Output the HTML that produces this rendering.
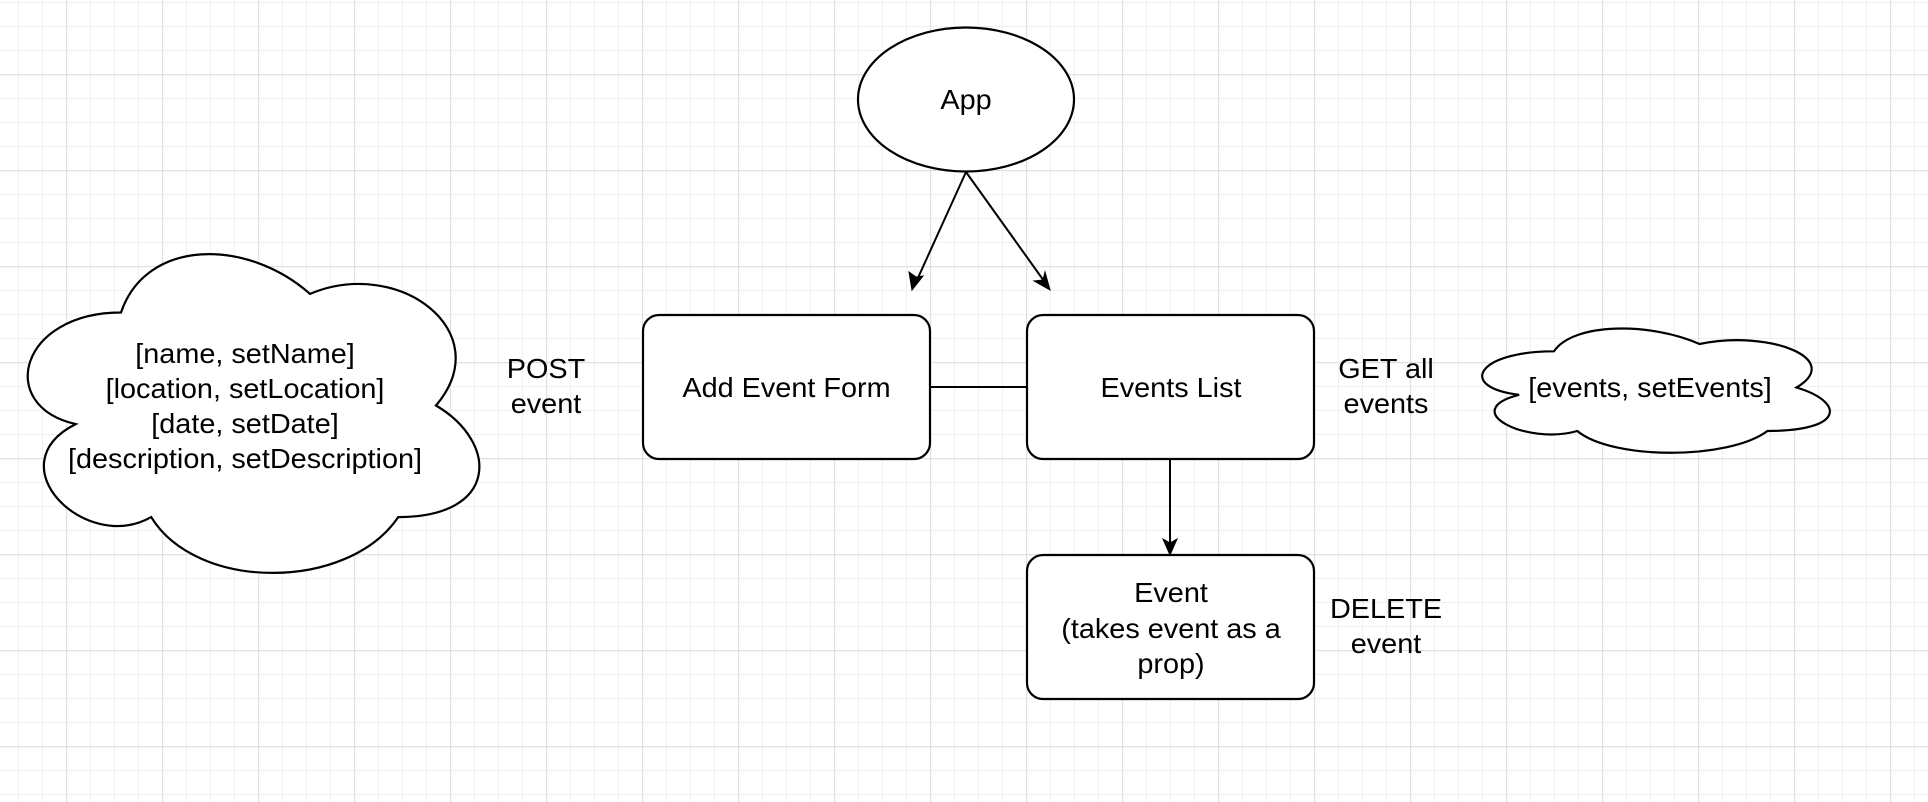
<!DOCTYPE html>
<html><head><meta charset="utf-8"><style>
html,body{margin:0;padding:0;background:#fff;}
svg{display:block;}
text{font-family:"Liberation Sans",Arial,sans-serif;font-size:28px;fill:#000;text-anchor:middle;}
</style></head><body>
<svg width="1928" height="802" viewBox="0 0 1928 802" xmlns="http://www.w3.org/2000/svg">
<defs>
<pattern id="minor" x="18" y="2" width="24" height="24" patternUnits="userSpaceOnUse">
<path d="M0 0V24M0 0H24" stroke="#f0f0f0" stroke-width="2" fill="none"/>
</pattern>
<pattern id="major" x="66.5" y="74.5" width="96" height="96" patternUnits="userSpaceOnUse">
<path d="M0 0V96M0 0H96" stroke="#d0d0d0" stroke-width="1.2" fill="none"/>
</pattern>
</defs>
<rect width="1928" height="802" fill="#fff"/>
<rect width="1928" height="802" fill="url(#minor)"/>
<rect width="1928" height="802" fill="url(#major)"/>

<g stroke="#000" stroke-width="2.2" fill="#fff">
<path d="M121 312.5 C20.2 312.5 -5 405.5 75.6 424.1 C-5 465 85.7 554.3 151.2 517.1 C196.6 591.5 347.8 591.5 398.2 517.1 C499 517.1 499 442.7 436 405.5 C499 331.1 398.2 256.7 310 293.9 C247 238.1 146.2 238.1 121 312.5 Z"/>
<path d="M1554 351.3 C1476.4 351.3 1457 387.5 1519.1 394.8 C1457 410.7 1526.8 445.5 1577.3 431 C1612.2 460 1728.6 460 1767.4 431 C1845 431 1845 402 1796.5 387.5 C1845 358.5 1767.4 329.5 1699.5 344 C1651 322.3 1573.4 322.3 1554 351.3 Z"/>
<ellipse cx="966" cy="99.5" rx="108" ry="72"/>
<rect x="643" y="315" width="287" height="144" rx="16"/>
<rect x="1027" y="315" width="287" height="144" rx="16"/>
<rect x="1027" y="555" width="287" height="144" rx="16"/>
</g>

<g stroke="#000" stroke-width="2" fill="none">
<line x1="930" y1="387" x2="1027" y2="387"/>
<line x1="966" y1="172" x2="917" y2="280"/>
<line x1="966" y1="172" x2="1044" y2="281"/>
<line x1="1170" y1="459" x2="1170" y2="543"/>
</g>
<g fill="#000" stroke="#000" stroke-width="1">
<path d="M912 290 L909 272 L916 277 L923 276 Z"/>
<path d="M1050 290 L1034 281 L1043 280 L1045 272 Z"/>
<path d="M1170 555 L1163 539 L1170 543 L1177 539 Z"/>
</g>

<g>
<text transform="translate(966,109) scale(1.03,1)">App</text>
<text transform="translate(786.5,397) scale(1.03,1)">Add Event Form</text>
<text transform="translate(1171,397) scale(1.03,1)">Events List</text>
<text transform="translate(1171,602) scale(1.03,1)">Event</text>
<text transform="translate(1171,638) scale(1.03,1)">(takes event as a</text>
<text transform="translate(1171,673) scale(1.03,1)">prop)</text>
<text transform="translate(546,378) scale(1.03,1)">POST</text>
<text transform="translate(546,413) scale(1.03,1)">event</text>
<text transform="translate(1386,378) scale(1.03,1)">GET all</text>
<text transform="translate(1386,413) scale(1.03,1)">events</text>
<text transform="translate(1386,618) scale(1.03,1)">DELETE</text>
<text transform="translate(1386,653) scale(1.03,1)">event</text>
<text transform="translate(1650,397) scale(1.03,1)">[events, setEvents]</text>
<text transform="translate(245,363) scale(1.03,1)">[name, setName]</text>
<text transform="translate(245,398) scale(1.03,1)">[location, setLocation]</text>
<text transform="translate(245,433) scale(1.03,1)">[date, setDate]</text>
<text transform="translate(245,468) scale(1.03,1)">[description, setDescription]</text>
</g>
</svg>
</body></html>
